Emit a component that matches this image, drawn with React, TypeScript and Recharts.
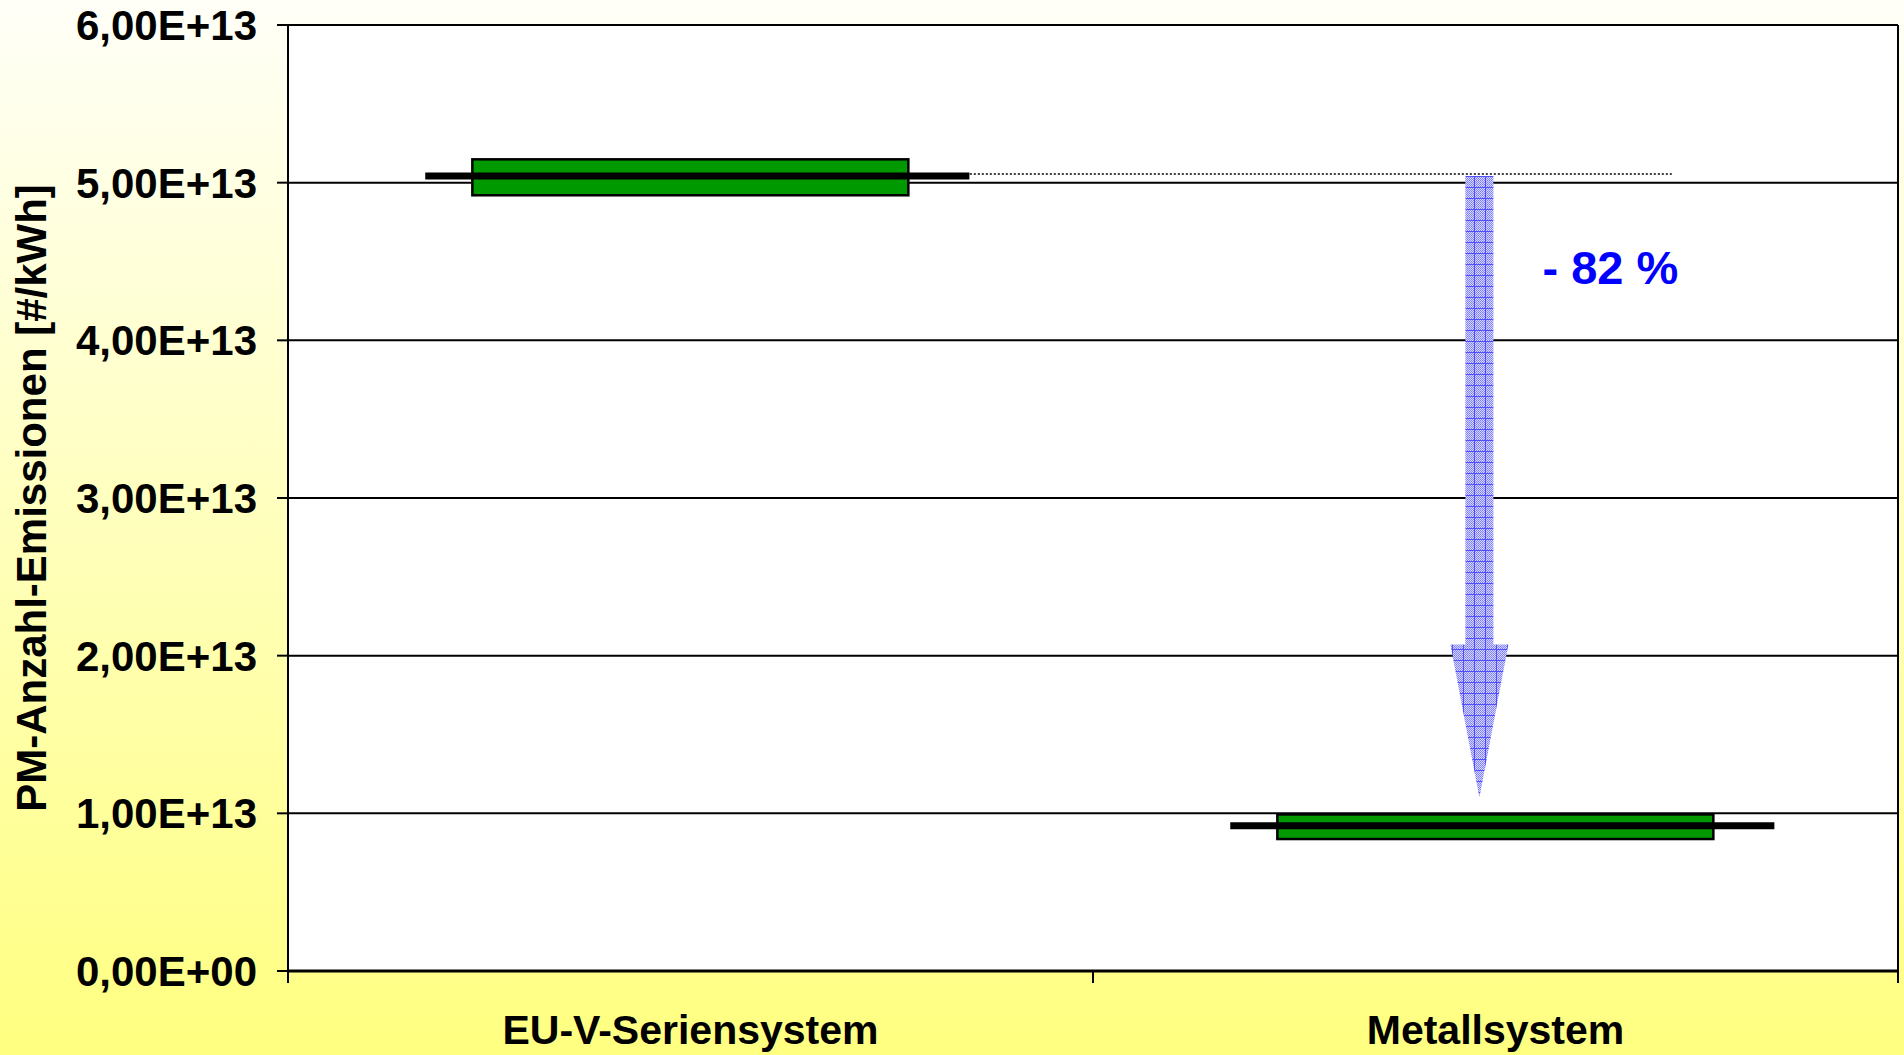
import React from 'react';
import { ComposedChart, Bar, XAxis, YAxis, CartesianGrid, ReferenceLine } from 'recharts';

// Particle number emissions per system: min / max of the measurements and their mean
const categories = ['EU-V-Seriensystem', 'Metallsystem'];
const lowValues = [4.92e13, 0.837e13];
const highValues = [5.148e13, 0.993e13];
const meanValues = [5.042e13, 0.921e13];
const yTicks = [0, 1e13, 2e13, 3e13, 4e13, 5e13, 6e13];
const arrowTipValue = 1.1e13;
const axisTitle = 'PM-Anzahl-Emissionen [#/kWh]';

const data = categories.map((name, i) => ({
  name,
  range: [lowValues[i], highValues[i]],
  mean: meanValues[i],
}));

const reduction = Math.round((meanValues[1] / meanValues[0] - 1) * 100);
const reductionLabel = `- ${Math.abs(reduction)} %`;

const FONT = '"Liberation Sans", Arial, Helvetica, sans-serif';
const WIDTH = 1904;
const HEIGHT = 1055;

// Excel-like scientific notation with a decimal comma: 5,00E+13
function formatSci(v: number): string {
  if (v === 0) return '0,00E+00';
  const e = Math.floor(Math.log10(Math.abs(v)));
  const m = v / Math.pow(10, e);
  return `${m.toFixed(2).replace('.', ',')}E${e >= 0 ? '+' : '-'}${String(Math.abs(e)).padStart(2, '0')}`;
}

// Green min/max box with a thick black mean line laid across it
function RangeBox(props: any) {
  const { x, y, width, height, payload } = props;
  if (x == null || y == null || !payload) return null;
  const [low, high] = payload.range;
  const meanY = y + (height * (high - payload.mean)) / (high - low);
  const lineLen = width * 1.248;
  const lineCx = x + width / 2 + width * 0.016;
  return (
    <g>
      <rect x={x} y={y} width={width} height={height} fill="#009900" stroke="#000" strokeWidth={2.5} />
      <line
        x1={lineCx - lineLen / 2}
        x2={lineCx + lineLen / 2}
        y1={meanY}
        y2={meanY}
        stroke="#000"
        strokeWidth={7}
      />
    </g>
  );
}

// Dotted level line from the first mean, the reduction arrow and its label
function ReductionAnnotation(props: any) {
  const { x1, y1, x2, y2 } = props;
  if (x1 == null || x2 == null) return null;
  const band = x2 - x1;
  const dotStart = x1 + band * 0.347;
  const dotEnd = x2 + band * 0.219;
  const cx = x2 - band * 0.02;
  const shaftHalf = 14;
  const headHalf = 29;
  const headLen = 153;
  const yb = y2 - headLen;
  const pts = [
    [cx - shaftHalf, y1],
    [cx + shaftHalf, y1],
    [cx + shaftHalf, yb],
    [cx + headHalf, yb],
    [cx, y2],
    [cx - headHalf, yb],
    [cx - shaftHalf, yb],
  ]
    .map((p) => p.join(','))
    .join(' ');
  return (
    <g>
      <defs>
        <pattern id="arrowDots" width="2" height="2" patternUnits="userSpaceOnUse">
          <rect width="2" height="2" fill="#d6d6ff" />
          <rect width="1" height="1" fill="#7a7aff" />
          <rect x="1" y="1" width="1" height="1" fill="#8a8aff" />
        </pattern>
        <pattern id="arrowFill" width="11" height="11" patternUnits="userSpaceOnUse">
          <rect width="11" height="11" fill="url(#arrowDots)" />
          <rect x="0" y="0" width="11" height="1" fill="#4f4fff" />
          <rect x="0" y="0" width="1" height="11" fill="#4f4fff" />
        </pattern>
      </defs>
      <line x1={dotStart} x2={dotEnd} y1={y1 - 2} y2={y1 - 2} stroke="#000" strokeWidth={1.5} strokeDasharray="2 2" />
      <polygon points={pts} fill="url(#arrowFill)" stroke="none" />
      <text
        x={cx + 131}
        y={y1 + (y2 - y1) * 0.147}
        textAnchor="middle"
        dominantBaseline="central"
        fontFamily={FONT}
        fontWeight="bold"
        fontSize={47}
        fill="#0000ff"
      >
        {reductionLabel}
      </text>
    </g>
  );
}

// Category label centred in its band, with tick marks at the band edges
function CategoryTick(props: any) {
  const { x, y, payload, width } = props;
  const half =
    payload && typeof payload.offset === 'number' && payload.offset > 0
      ? payload.offset
      : (width || 0) / categories.length / 2;
  return (
    <g>
      <line x1={x - half} x2={x - half} y1={y} y2={y + 12} stroke="#000" strokeWidth={2} />
      <line x1={x + half} x2={x + half} y1={y} y2={y + 12} stroke="#000" strokeWidth={2} />
      <text
        x={x}
        y={y + 73}
        textAnchor="middle"
        fontFamily={FONT}
        fontWeight="bold"
        fontSize={41}
        fill="#000"
      >
        {payload.value}
      </text>
    </g>
  );
}

export default function App() {
  return (
    <div
      style={{
        position: 'absolute',
        left: 0,
        top: 0,
        width: WIDTH,
        height: HEIGHT,
        background: 'linear-gradient(to bottom, #FFFFF8 0%, #FFFF80 100%)',
      }}
    >
      <ComposedChart
        width={WIDTH}
        height={HEIGHT}
        data={data}
        margin={{ top: 25, right: 5, bottom: 0, left: 0 }}
        barCategoryGap="22.9%"
      >
        <CartesianGrid vertical={false} stroke="#000" strokeWidth={2} fill="#ffffff" fillOpacity={1} />
        <XAxis
          dataKey="name"
          height={84}
          tickLine={false}
          tickSize={0}
          tickMargin={0}
          axisLine={{ stroke: '#000', strokeWidth: 3 }}
          tick={<CategoryTick />}
          interval={0}
        />
        <YAxis
          width={288}
          domain={[0, 6e13]}
          ticks={yTicks}
          interval={0}
          tickFormatter={formatSci}
          tickSize={11}
          tickMargin={20}
          axisLine={{ stroke: '#000', strokeWidth: 2 }}
          tickLine={{ stroke: '#000', strokeWidth: 2 }}
          tick={{ fill: '#000', fontSize: 42, fontWeight: 'bold', fontFamily: FONT }}
          label={{
            value: axisTitle,
            angle: -90,
            position: 'insideLeft',
            offset: 31,
            style: { textAnchor: 'middle', fontSize: 42, fontWeight: 'bold', fontFamily: FONT, fill: '#000' },
          }}
        />
        <YAxis
          yAxisId="frame"
          orientation="right"
          width={1}
          domain={[0, 6e13]}
          tick={false}
          tickLine={false}
          axisLine={{ stroke: '#000', strokeWidth: 2 }}
        />
        <Bar dataKey="range" isAnimationActive={false} shape={<RangeBox />} />
        <ReferenceLine
          segment={[
            { x: categories[0], y: meanValues[0] },
            { x: categories[1], y: arrowTipValue },
          ]}
          shape={(p: any) => <ReductionAnnotation {...p} />}
          ifOverflow="visible"
        />
      </ComposedChart>
    </div>
  );
}
